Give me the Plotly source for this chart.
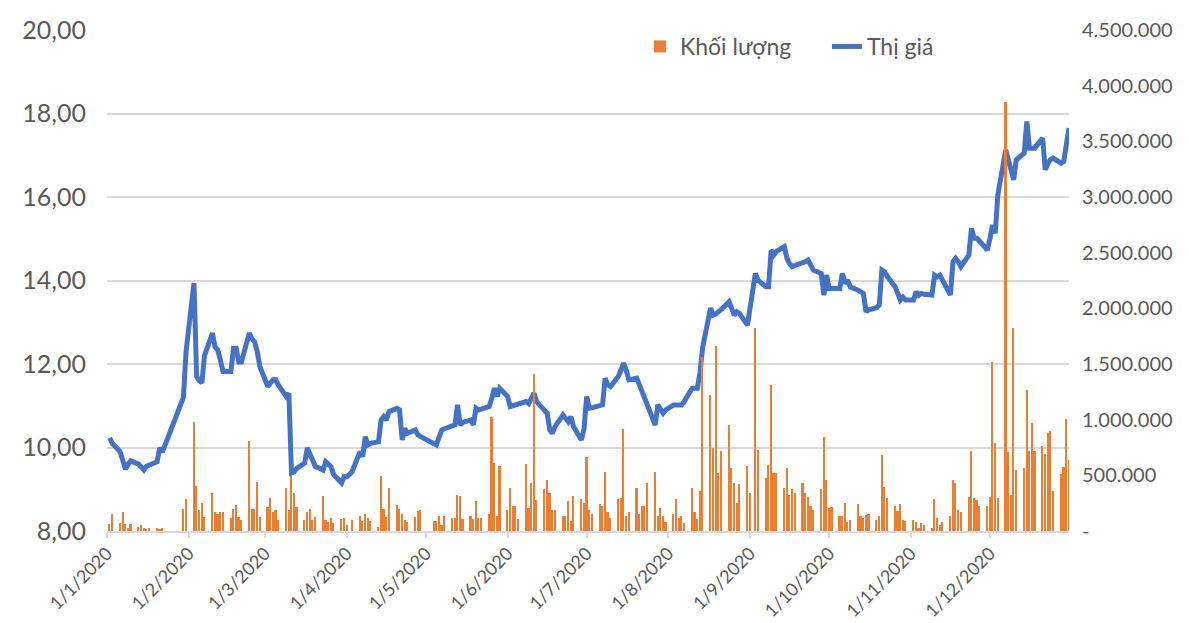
import pandas as pd
import plotly.graph_objects as go

# Trading-day calendar (HOSE 2020, public holidays removed)
holidays = ["2020-01-01", "2020-01-23", "2020-01-24", "2020-01-27", "2020-01-28",
            "2020-01-29", "2020-04-02", "2020-04-30", "2020-05-01", "2020-09-02"]

# Thị giá (price) per trading day, month by month
price_jan = [10.23, 10.10, 9.90, 9.70, 9.48, 9.60, 9.68, 9.60, 9.52, 9.46, 9.55, 9.58, 9.66, 9.99, 9.89, 11.20, 12.30]
price_feb = [13.94, 11.70, 11.60, 11.55, 12.20, 12.74, 12.41, 12.34, 12.10, 11.82, 11.82, 12.38, 12.38, 12.05, 12.05,
             12.74, 12.60, 12.53, 12.30, 11.94]
price_mar = [11.46, 11.55, 11.62, 11.62, 11.50, 11.22, 11.30, 9.39, 9.42, 9.50, 9.63, 9.99, 9.87, 9.70, 9.55, 9.46,
             9.66, 9.60, 9.54, 9.35, 9.15, 9.30]
price_apr = [9.30, 9.42, 9.90, 9.78, 10.26, 10.06, 10.10, 10.14, 10.66, 10.74, 10.66, 10.86, 10.94, 10.90, 10.18,
             10.46, 10.34, 10.42, 10.30, 10.26]
price_may = [10.10, 10.06, 10.25, 10.42, 10.45, 10.50, 10.54, 11.02, 10.54, 10.60, 10.66, 10.54, 10.94, 10.90, 10.92,
             10.98, 11.18, 11.42, 11.22, 11.42]
price_jun = [11.22, 10.98, 11.00, 11.02, 11.05, 11.10, 11.05, 11.20, 11.30, 11.10, 10.90, 10.82, 10.42, 10.34, 10.50,
             10.78, 10.70, 10.62, 10.74, 10.50, 10.18, 10.45]
price_jul = [11.22, 10.94, 10.95, 11.00, 11.02, 11.66, 11.50, 11.46, 11.70, 11.85, 12.02, 11.85, 11.62, 11.66, 11.50,
             11.30, 11.10, 10.98, 10.54, 11.02, 10.90, 10.82, 10.90]
price_aug = [11.02, 11.02, 11.02, 11.02, 11.10, 11.42, 11.42, 11.42, 11.80, 12.40, 13.34, 13.17, 13.20, 13.25, 13.30,
             13.49, 13.30, 13.17, 13.25, 13.21, 12.93]
price_sep = [13.29, 14.17, 14.01, 13.85, 13.85, 14.73, 14.61, 14.70, 14.81, 14.53, 14.40, 14.33, 14.36, 14.41, 14.45,
             14.49, 14.37, 14.25, 14.17, 13.65, 14.13]
price_oct = [13.81, 13.81, 13.81, 14.17, 13.93, 14.01, 13.85, 13.77, 13.72, 13.69, 13.25, 13.30, 13.35, 13.41, 14.25,
             14.21, 14.10, 13.85, 13.70, 13.53, 13.60, 13.53]
price_nov = [13.53, 13.73, 13.65, 13.69, 13.67, 13.65, 14.13, 14.09, 14.13, 14.00, 13.65, 14.45, 14.53, 14.45, 14.33,
             14.61, 15.25, 15.01, 15.01, 14.95, 14.73]
price_dec = [15.00, 15.33, 15.13, 16.05, 17.13, 16.85, 16.70, 16.41, 16.89, 17.05, 17.81, 17.17, 17.17, 17.17, 17.41,
             16.65, 16.80, 16.90, 16.93, 16.81, 16.85, 17.20, 17.65]

# Khối lượng (volume, thousands of shares) per trading day
vol_jan = [60, 150, 70, 170, 60, 30, 60, 40, 50, 30, 20, 30, 30, 20, 30, 200, 290]
vol_feb = [980, 400, 190, 250, 130, 340, 170, 150, 170, 170, 120, 200, 235, 130, 100, 810, 200, 200, 440, 130]
vol_mar = [220, 300, 170, 190, 100, 390, 190, 490, 340, 220, 100, 170, 200, 100, 130, 310, 100, 85, 120, 70, 105, 120]
vol_apr = [55, 100, 135, 90, 150, 120, 90, 40, 490, 200, 130, 390, 235, 200, 150, 100, 80, 130, 180, 190]
vol_may = [90, 90, 135, 55, 135, 120, 120, 325, 310, 105, 135, 105, 270, 120, 120, 150, 1020, 615, 135, 580]
vol_jun = [190, 390, 225, 225, 105, 600, 205, 430, 1410, 280, 375, 460, 340, 190, 190, 135, 135, 270, 90, 310, 285, 255]
vol_jul = [665, 190, 150, 240, 225, 527, 170, 120, 285, 300, 913, 135, 170, 390, 150, 225, 225, 430, 527, 135, 205,
           135, 85]
vol_aug = [150, 287, 120, 135, 70, 390, 175, 105, 355, 1565, 1220, 748, 1660, 524, 718, 952, 568, 434, 249, 420, 584]
vol_sep = [339, 1820, 728, 473, 593, 1310, 524, 524, 383, 563, 323, 374, 339, 428, 339, 308, 225, 189, 374, 847, 458]
vol_oct = [204, 218, 135, 135, 254, 78, 99, 242, 135, 114, 144, 155, 99, 135, 683, 398, 294, 225, 180, 242, 102, 90]
vol_nov = [99, 84, 30, 69, 54, 30, 287, 120, 54, 84, 138, 458, 428, 189, 174, 308, 718, 294, 278, 228, 228]
vol_dec = [308, 1515, 788, 294, 3856, 707, 323, 1820, 548, 563, 1267, 718, 967, 718, 766, 689, 877, 898, 359, 509,
           578, 1009, 635]

# Axis ticks
x_tick_dates = ["2020-%02d-01" % m for m in range(1, 13)]
x_tick_text = ["1/%d/2020" % m for m in range(1, 13)]
left_tick_vals = [8, 10, 12, 14, 16, 18, 20]
left_tick_text = ["8,00", "10,00", "12,00", "14,00", "16,00", "18,00", "20,00"]
right_tick_vals = [0, 500000, 1000000, 1500000, 2000000, 2500000, 3000000, 3500000, 4000000, 4500000]
right_tick_text = ["-", "500.000", "1.000.000", "1.500.000", "2.000.000", "2.500.000", "3.000.000",
                   "3.500.000", "4.000.000", "4.500.000"]

days = pd.bdate_range("2020-01-01", "2020-12-31")
days = days[~days.isin(pd.to_datetime(holidays))]
price = (price_jan + price_feb + price_mar + price_apr + price_may + price_jun +
         price_jul + price_aug + price_sep + price_oct + price_nov + price_dec)
vol_k = (vol_jan + vol_feb + vol_mar + vol_apr + vol_may + vol_jun +
         vol_jul + vol_aug + vol_sep + vol_oct + vol_nov + vol_dec)
volume = [v * 1000 for v in vol_k]
assert len(price) == len(days) == len(volume)

FONT = "Lato"
GREY = "#595959"
GRID = "#d9d9d9"

fig = go.Figure()
fig.add_trace(go.Scatter(
    x=days, y=price, name="Thị giá", mode="lines",
    line=dict(color="#4472C4", width=5), yaxis="y"))
fig.add_trace(go.Bar(
    x=days, y=volume, name="Khối lượng", marker=dict(color="#ED7D31", line=dict(width=0)),
    width=0.62 * 86400000, yaxis="y2"))

fig.update_layout(
    width=1189, height=623,
    margin=dict(l=107, r=120, t=30, b=92, autoexpand=False),
    paper_bgcolor="white", plot_bgcolor="white",
    font=dict(family=FONT, color=GREY),
    showlegend=True,
    legend=dict(orientation="h", x=0.554, y=1.01, xanchor="left", yanchor="top",
                font=dict(size=23, color=GREY), traceorder="reversed",
                entrywidth=142, entrywidthmode="pixels", bgcolor="rgba(0,0,0,0)"),
    xaxis=dict(type="date", range=["2020-01-01", "2020-12-31"],
               tickvals=x_tick_dates, ticktext=x_tick_text, tickangle=-45,
               tickfont=dict(size=18, color=GREY), showgrid=False, automargin=False,
               showline=True, linecolor=GRID, linewidth=2, ticklabelstandoff=-2,
               ticks="outside", tickcolor=GRID, ticklen=5, tickwidth=2, zeroline=False),
    yaxis=dict(range=[8, 20], tickvals=left_tick_vals, ticktext=left_tick_text,
               tickfont=dict(size=25, color=GREY), showgrid=True, gridcolor=GRID, gridwidth=2,
               zeroline=False, showline=False, ticklabelstandoff=20, side="left", automargin=False),
    yaxis2=dict(range=[0, 4500000], tickvals=right_tick_vals, ticktext=right_tick_text,
                tickfont=dict(size=20, color=GREY), showgrid=False, zeroline=False, automargin=False,
                overlaying="y", side="right", ticklabelstandoff=12),
    bargap=0,
)

fig.write_html("out.html", config={"displayModeBar": False},
               post_script="document.body.style.margin='0';")
